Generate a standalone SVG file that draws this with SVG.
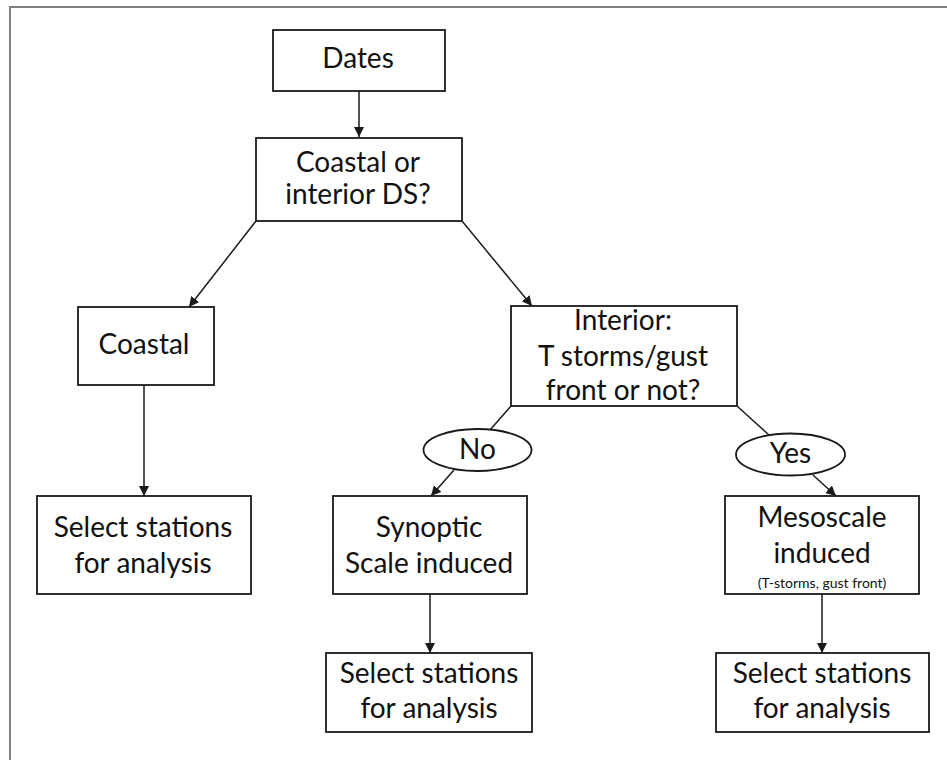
<svg xmlns="http://www.w3.org/2000/svg" width="947" height="760" viewBox="0 0 947 760">
<style>
.box{fill:#fff;stroke:#1a1a1a;stroke-width:1.8}
.lbl{font-family:Lato,"Open Sans","Liberation Sans",sans-serif;font-size:28px;fill:#111;text-anchor:middle}
.small{font-family:Lato,"Open Sans","Liberation Sans",sans-serif;font-size:14px;fill:#111;text-anchor:middle}
.con{fill:none;stroke:#1a1a1a;stroke-width:1.5}
</style>
<defs>
<marker id="ah" markerUnits="userSpaceOnUse" markerWidth="10" markerHeight="10" viewBox="0 0 10 10" refX="10" refY="5" orient="auto">
<path d="M0,0 L10,5 L0,10 z" fill="#1a1a1a"/>
</marker>
</defs>
<rect x="0" y="0" width="947" height="760" fill="#fff"/>
<rect x="10" y="7" width="960" height="780" fill="none" stroke="#808080" stroke-width="2"/>
<g id="connectors">
<line class="con" x1="359" y1="91" x2="359" y2="137" marker-end="url(#ah)"/>
<line class="con" x1="256" y1="221" x2="189" y2="307" marker-end="url(#ah)"/>
<line class="con" x1="462" y1="221" x2="532" y2="306" marker-end="url(#ah)"/>
<line class="con" x1="144" y1="369" x2="144" y2="496" marker-end="url(#ah)"/>
<line class="con" x1="511" y1="406" x2="490" y2="430"/>
<line class="con" x1="737" y1="406" x2="769" y2="435"/>
<line class="con" x1="454" y1="470" x2="431" y2="496" marker-end="url(#ah)"/>
<line class="con" x1="813" y1="475" x2="836" y2="496" marker-end="url(#ah)"/>
<line class="con" x1="430" y1="594" x2="430" y2="653" marker-end="url(#ah)"/>
<line class="con" x1="822" y1="594" x2="822" y2="653" marker-end="url(#ah)"/>
</g>
<g id="dates">
<rect class="box" x="273" y="30" width="172" height="61"/>
<text class="lbl" x="358" y="68">Dates</text>
</g>
<g id="coastal-or-interior">
<rect class="box" x="256" y="138" width="206" height="83"/>
<text class="lbl" x="358" y="172">Coastal or</text>
<text class="lbl" x="358" y="204">interior DS?</text>
</g>
<g id="coastal">
<rect class="box" x="78" y="307" width="136" height="78"/>
<text class="lbl" x="144" y="354">Coastal</text>
</g>
<g id="interior">
<rect class="box" x="511" y="306" width="226" height="100"/>
<text class="lbl" x="623" y="330">Interior:</text>
<text class="lbl" x="623" y="366">T storms/gust</text>
<text class="lbl" x="623" y="400">front or not?</text>
</g>
<g id="no">
<ellipse class="box" cx="477.5" cy="450" rx="54" ry="21"/>
<text class="lbl" x="477.5" y="459">No</text>
</g>
<g id="yes">
<ellipse class="box" cx="790.5" cy="454.5" rx="54.5" ry="21"/>
<text class="lbl" x="790.5" y="463">Yes</text>
</g>
<g id="select-coastal">
<rect class="box" x="37" y="496" width="214" height="98"/>
<text class="lbl" x="143" y="537">Select stations</text>
<text class="lbl" x="143" y="573">for analysis</text>
</g>
<g id="synoptic">
<rect class="box" x="333" y="496" width="194" height="98"/>
<text class="lbl" x="429" y="537">Synoptic</text>
<text class="lbl" x="429" y="573">Scale induced</text>
</g>
<g id="mesoscale">
<rect class="box" x="725" y="496" width="194" height="98"/>
<text class="lbl" x="822" y="527">Mesoscale</text>
<text class="lbl" x="822" y="563">induced</text>
<text class="small" x="822" y="588">(T-storms, gust front)</text>
</g>
<g id="select-synoptic">
<rect class="box" x="326" y="653" width="206" height="79"/>
<text class="lbl" x="429" y="683">Select stations</text>
<text class="lbl" x="429" y="718">for analysis</text>
</g>
<g id="select-mesoscale">
<rect class="box" x="716" y="653" width="213" height="79"/>
<text class="lbl" x="822" y="683">Select stations</text>
<text class="lbl" x="822" y="718">for analysis</text>
</g>
</svg>
